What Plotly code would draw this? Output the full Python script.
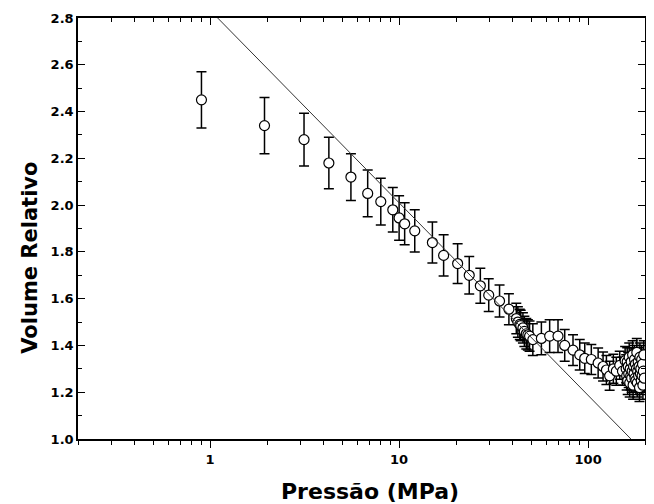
import plotly.graph_objects as go
import numpy as np

# Measured data: pressure (MPa), relative volume, error
pressure = [0.90, 1.94, 3.14, 4.25, 5.56, 6.82, 8.0, 9.26, 10.0, 10.7, 12.1,
            15.0, 17.2, 20.4, 23.5, 26.9, 29.8, 34.0, 38.1, 41.7, 42.5, 43.5,
            44.0, 45.2, 46.0, 47.1, 48.0, 49.0, 51.0, 56.6, 62.6, 69.3, 75.2,
            83.2, 90.3, 96.0, 104, 113, 120, 125, 130, 136, 141, 147, 152, 157,
            159, 160, 161, 162, 163, 164, 165, 166, 167, 168, 169, 170, 171, 172,
            173, 174, 175, 176, 177, 178, 179, 180, 181, 182, 183, 184, 185, 186,
            187, 188, 189, 190, 191, 192, 193, 194, 195, 196, 197, 198]
volume = [2.45, 2.34, 2.28, 2.18, 2.12, 2.05, 2.015, 1.98, 1.945, 1.92, 1.89,
          1.84, 1.785, 1.75, 1.70, 1.655, 1.615, 1.59, 1.555, 1.515, 1.50, 1.49,
          1.485, 1.475, 1.46, 1.45, 1.445, 1.44, 1.425, 1.43, 1.44, 1.44, 1.40,
          1.38, 1.36, 1.345, 1.34, 1.325, 1.31, 1.295, 1.27, 1.30, 1.29, 1.315, 1.29, 1.335,
          1.30, 1.27, 1.33, 1.25, 1.31, 1.28, 1.35, 1.24, 1.30, 1.27, 1.33, 1.26, 1.29,
          1.36, 1.23, 1.31, 1.28, 1.34, 1.26, 1.32, 1.25, 1.30, 1.37, 1.24, 1.29, 1.33,
          1.27, 1.31, 1.22, 1.35, 1.28, 1.30, 1.25, 1.34, 1.27, 1.32, 1.23, 1.29, 1.36, 1.26]
error = [0.12, 0.12, 0.113, 0.11, 0.10, 0.10, 0.10, 0.095, 0.095, 0.09, 0.09,
         0.088, 0.088, 0.085, 0.08, 0.075, 0.07, 0.068, 0.066, 0.065, 0.065, 0.065,
         0.065, 0.065, 0.065, 0.065, 0.065, 0.065, 0.068, 0.07, 0.07, 0.07, 0.068,
         0.066, 0.065, 0.065, 0.064, 0.064, 0.062, 0.062, 0.062, 0.062, 0.06, 0.06, 0.06, 0.06,
         0.06, 0.06, 0.06, 0.06, 0.06, 0.06, 0.06, 0.06, 0.06, 0.06, 0.06, 0.06, 0.06,
         0.06, 0.06, 0.06, 0.06, 0.06, 0.06, 0.06, 0.06, 0.06, 0.06, 0.06, 0.06, 0.06,
         0.06, 0.06, 0.06, 0.06, 0.06, 0.06, 0.06, 0.06, 0.06, 0.06, 0.06, 0.06, 0.06, 0.06]

# Fitted line
fit_pressure = [1.097, 168.5]
fit_volume = [2.8, 1.0]

x_major = [1, 10, 100]
x_ticklabels = ["1", "10", "100"]
x_title = "Pressão (MPa)"
y_title = "Volume Relativo"

FONT = "DejaVu Sans"
minor_x = [m * d for d in (0.1, 1, 10, 100) for m in range(2, 10) if 0.2 <= m * d <= 200]

fig = go.Figure()
fig.add_trace(go.Scatter(
    x=pressure, y=volume, mode="markers",
    marker=dict(symbol="circle", size=10, color="white",
                line=dict(color="black", width=1.2)),
    error_y=dict(type="data", array=error, visible=True,
                 color="black", thickness=1.5, width=5),
    showlegend=False, cliponaxis=True,
))
fig.add_trace(go.Scatter(
    x=fit_pressure, y=fit_volume, mode="lines",
    line=dict(color="#333333", width=1), showlegend=False,
))
# invisible trace on top axis so it is drawn
fig.add_trace(go.Scatter(x=[1], y=[2], xaxis="x2", mode="markers",
                         marker=dict(opacity=0), showlegend=False, hoverinfo="skip"))

common_x = dict(type="log", range=[np.log10(0.2), np.log10(200)], automargin=False)
# the page body adds an 8 px offset; figure is sized/margined to compensate
fig.update_layout(
    width=646, height=496,
    margin=dict(l=70, r=9, t=10, b=65),
    paper_bgcolor="white", plot_bgcolor="white",
    font=dict(family=FONT, color="black"),
    xaxis=dict(**common_x,
               tickmode="array", tickvals=x_major, ticktext=x_ticklabels,
               ticks="outside", ticklen=7, tickwidth=1, tickcolor="black",
               minor=dict(tickmode="array", tickvals=minor_x, ticks="outside",
                          ticklen=4, tickwidth=1, tickcolor="black", showgrid=False),
               showline=True, linecolor="black", linewidth=1.5, mirror=True,
               showgrid=False, zeroline=False,
               tickfont=dict(family=FONT, size=13, weight="bold"),
               ticklabelstandoff=1),
    xaxis2=dict(**common_x, overlaying="x", side="top", anchor="y",
                tickmode="array", tickvals=x_major, showticklabels=False,
                ticks="inside", ticklen=7, tickwidth=1, tickcolor="black",
                minor=dict(tickmode="array", tickvals=minor_x, ticks="inside",
                           ticklen=4, tickwidth=1, tickcolor="black", showgrid=False),
                showline=False, showgrid=False, zeroline=False),
    yaxis=dict(range=[1.0, 2.8], tickmode="linear", tick0=1.0, dtick=0.2,
               tickformat=".1f", automargin=False,
               ticks="inside", ticklen=7, tickwidth=1, tickcolor="black",
               minor=dict(dtick=0.1, ticks="inside", ticklen=4, tickwidth=1,
                          tickcolor="black", showgrid=False),
               showline=True, linecolor="black", linewidth=1.5, mirror="ticks",
               showgrid=False, zeroline=False,
               tickfont=dict(family=FONT, size=13, weight="bold")),
    annotations=[
        dict(text=x_title, xref="paper", yref="paper", x=0.515, y=-0.125,
             xanchor="center", yanchor="middle", showarrow=False,
             font=dict(family=FONT, size=22, weight="bold")),
        dict(text=y_title, xref="paper", yref="paper", x=-0.085, y=0.43,
             xanchor="center", yanchor="middle", textangle=-90, showarrow=False,
             font=dict(family=FONT, size=21, weight="bold")),
    ],
)

fig.write_html("out.html")
